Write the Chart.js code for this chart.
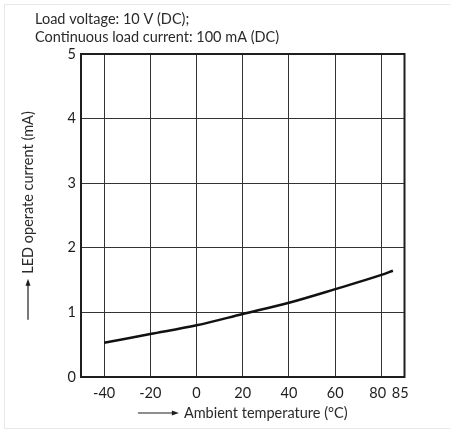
<!DOCTYPE html>
<html>
<head>
<meta charset="utf-8">
<script src="https://cdn.jsdelivr.net/npm/chart.js@4/dist/chart.umd.min.js"></script>
<style>
  html, body { margin: 0; padding: 0; background: #fff; }
  #wrap { position: relative; width: 450px; height: 441px; overflow: hidden; }
  #frame { position: absolute; left: 4px; top: 4px; width: 470px; height: 423px; border: 1px solid #e8e8e8; }
  canvas { position: absolute; left: 0; top: 0; }
</style>
</head>
<body>
<div id="wrap">
  <div id="frame"></div>
  <canvas id="myChart" width="450" height="441"></canvas>
</div>
<script>
// data
const header = ["Load voltage: 10 V (DC);", "Continuous load current: 100 mA (DC)"];
const xTitle = "Ambient temperature (\u00B0C)";
const yTitle = "LED operate current (mA)";
const temps = [-40, -20, 0, 20, 40, 60, 80, 85];
const current = [0.53, 0.665, 0.8, 0.975, 1.15, 1.36, 1.58, 1.645];
const xTicks = [-40, -20, 0, 20, 40, 60, 80, 85];
const xTickLabels = ["-40", "-20", "0", "20", "40", "60", "80", "85"];
const yTicks = [0, 1, 2, 3, 4, 5];

const FONT = "Lato, 'DejaVu Sans', sans-serif";
const SIZE = 14.5;
const INK = "#1e1e1e";

const extras = {
  id: "extras",
  afterDraw(chart) {
    const { ctx, chartArea: a } = chart;
    ctx.save();
    // frame round the plot
    ctx.strokeStyle = INK;
    ctx.lineWidth = 2;
    ctx.strokeRect(a.left, a.top, a.right - a.left, a.bottom - a.top);

    // header
    ctx.fillStyle = "#2a2a2a";
    ctx.font = SIZE + "px " + FONT;
    ctx.textBaseline = "alphabetic";
    ctx.textAlign = "left";
    ctx.fillText(header[0], 35, 24);
    ctx.fillText(header[1], 35, 42);

    // axis titles: arrow + text, centred on the plot
    const draw = (text, cx, cy, rot) => {
      ctx.save();
      ctx.translate(cx, cy);
      ctx.rotate(rot);
      ctx.font = SIZE + "px " + FONT;
      const tw = ctx.measureText(text).width;
      const len = 41, gap = 5;
      const x0 = -(len + gap + tw) / 2;
      ctx.strokeStyle = INK;
      ctx.fillStyle = INK;
      ctx.lineWidth = 1.2;
      ctx.beginPath();
      ctx.moveTo(x0, 0);
      ctx.lineTo(x0 + len - 5, 0);
      ctx.stroke();
      ctx.beginPath();
      ctx.moveTo(x0 + len, 0);
      ctx.lineTo(x0 + len - 7, -2.5);
      ctx.lineTo(x0 + len - 7, 2.5);
      ctx.closePath();
      ctx.fill();
      ctx.fillStyle = "#2a2a2a";
      ctx.textBaseline = "middle";
      ctx.fillText(text, x0 + len + gap, 0);
      ctx.restore();
    };
    draw(xTitle, (a.left + a.right) / 2, 413, 0);
    draw(yTitle, 28, (a.top + a.bottom) / 2, -Math.PI / 2);
    ctx.restore();
  },
};

// config
const config = {
  type: "line",
  data: {
    datasets: [
      {
        data: temps.map((t, i) => ({ x: t, y: current[i] })),
        borderColor: "#111",
        borderWidth: 2.5,
        pointRadius: 0,
        cubicInterpolationMode: "monotone",
        fill: false,
      },
    ],
  },
  options: {
    responsive: false,
    animation: false,
    layout: { padding: { top: 54, right: 45.5, left: 0, bottom: 0 } },
    plugins: { legend: { display: false }, tooltip: { enabled: false } },
    scales: {
      x: {
        type: "linear",
        min: -50,
        max: 90,
        afterBuildTicks: (s) => { s.ticks = xTicks.map((v) => ({ value: v })); },
        afterFit: (s) => { s.height = 64; },
        grid: {
          color: (c) => (c.tick && c.tick.value === 85 ? "rgba(0,0,0,0)" : "#333"),
          drawTicks: false,
          lineWidth: 1,
        },
        border: { display: true, color: INK, width: 2 },
        ticks: {
          autoSkip: false,
          maxRotation: 0,
          padding: 8,
          color: INK,
          font: { family: FONT, size: SIZE },
          // nudge 80 and 85 apart as in the original
          callback: (v) => {
            const s = xTickLabels[xTicks.indexOf(v)];
            if (v === 80) return s + "\u2002";
            if (v === 85) return "\u2002\u2002" + s;
            return s;
          },
        },
      },
      y: {
        min: 0,
        max: 5,
        afterBuildTicks: (s) => { s.ticks = yTicks.map((v) => ({ value: v })); },
        afterFit: (s) => { s.width = 81; },
        grid: { color: "#333", drawTicks: false, lineWidth: 1 },
        border: { display: true, color: INK, width: 2 },
        ticks: { padding: 5, color: INK, font: { family: FONT, size: SIZE } },
      },
    },
  },
  plugins: [extras],
};

// render init block
const myChart = new Chart(document.getElementById("myChart"), config);
</script>
</body>
</html>
